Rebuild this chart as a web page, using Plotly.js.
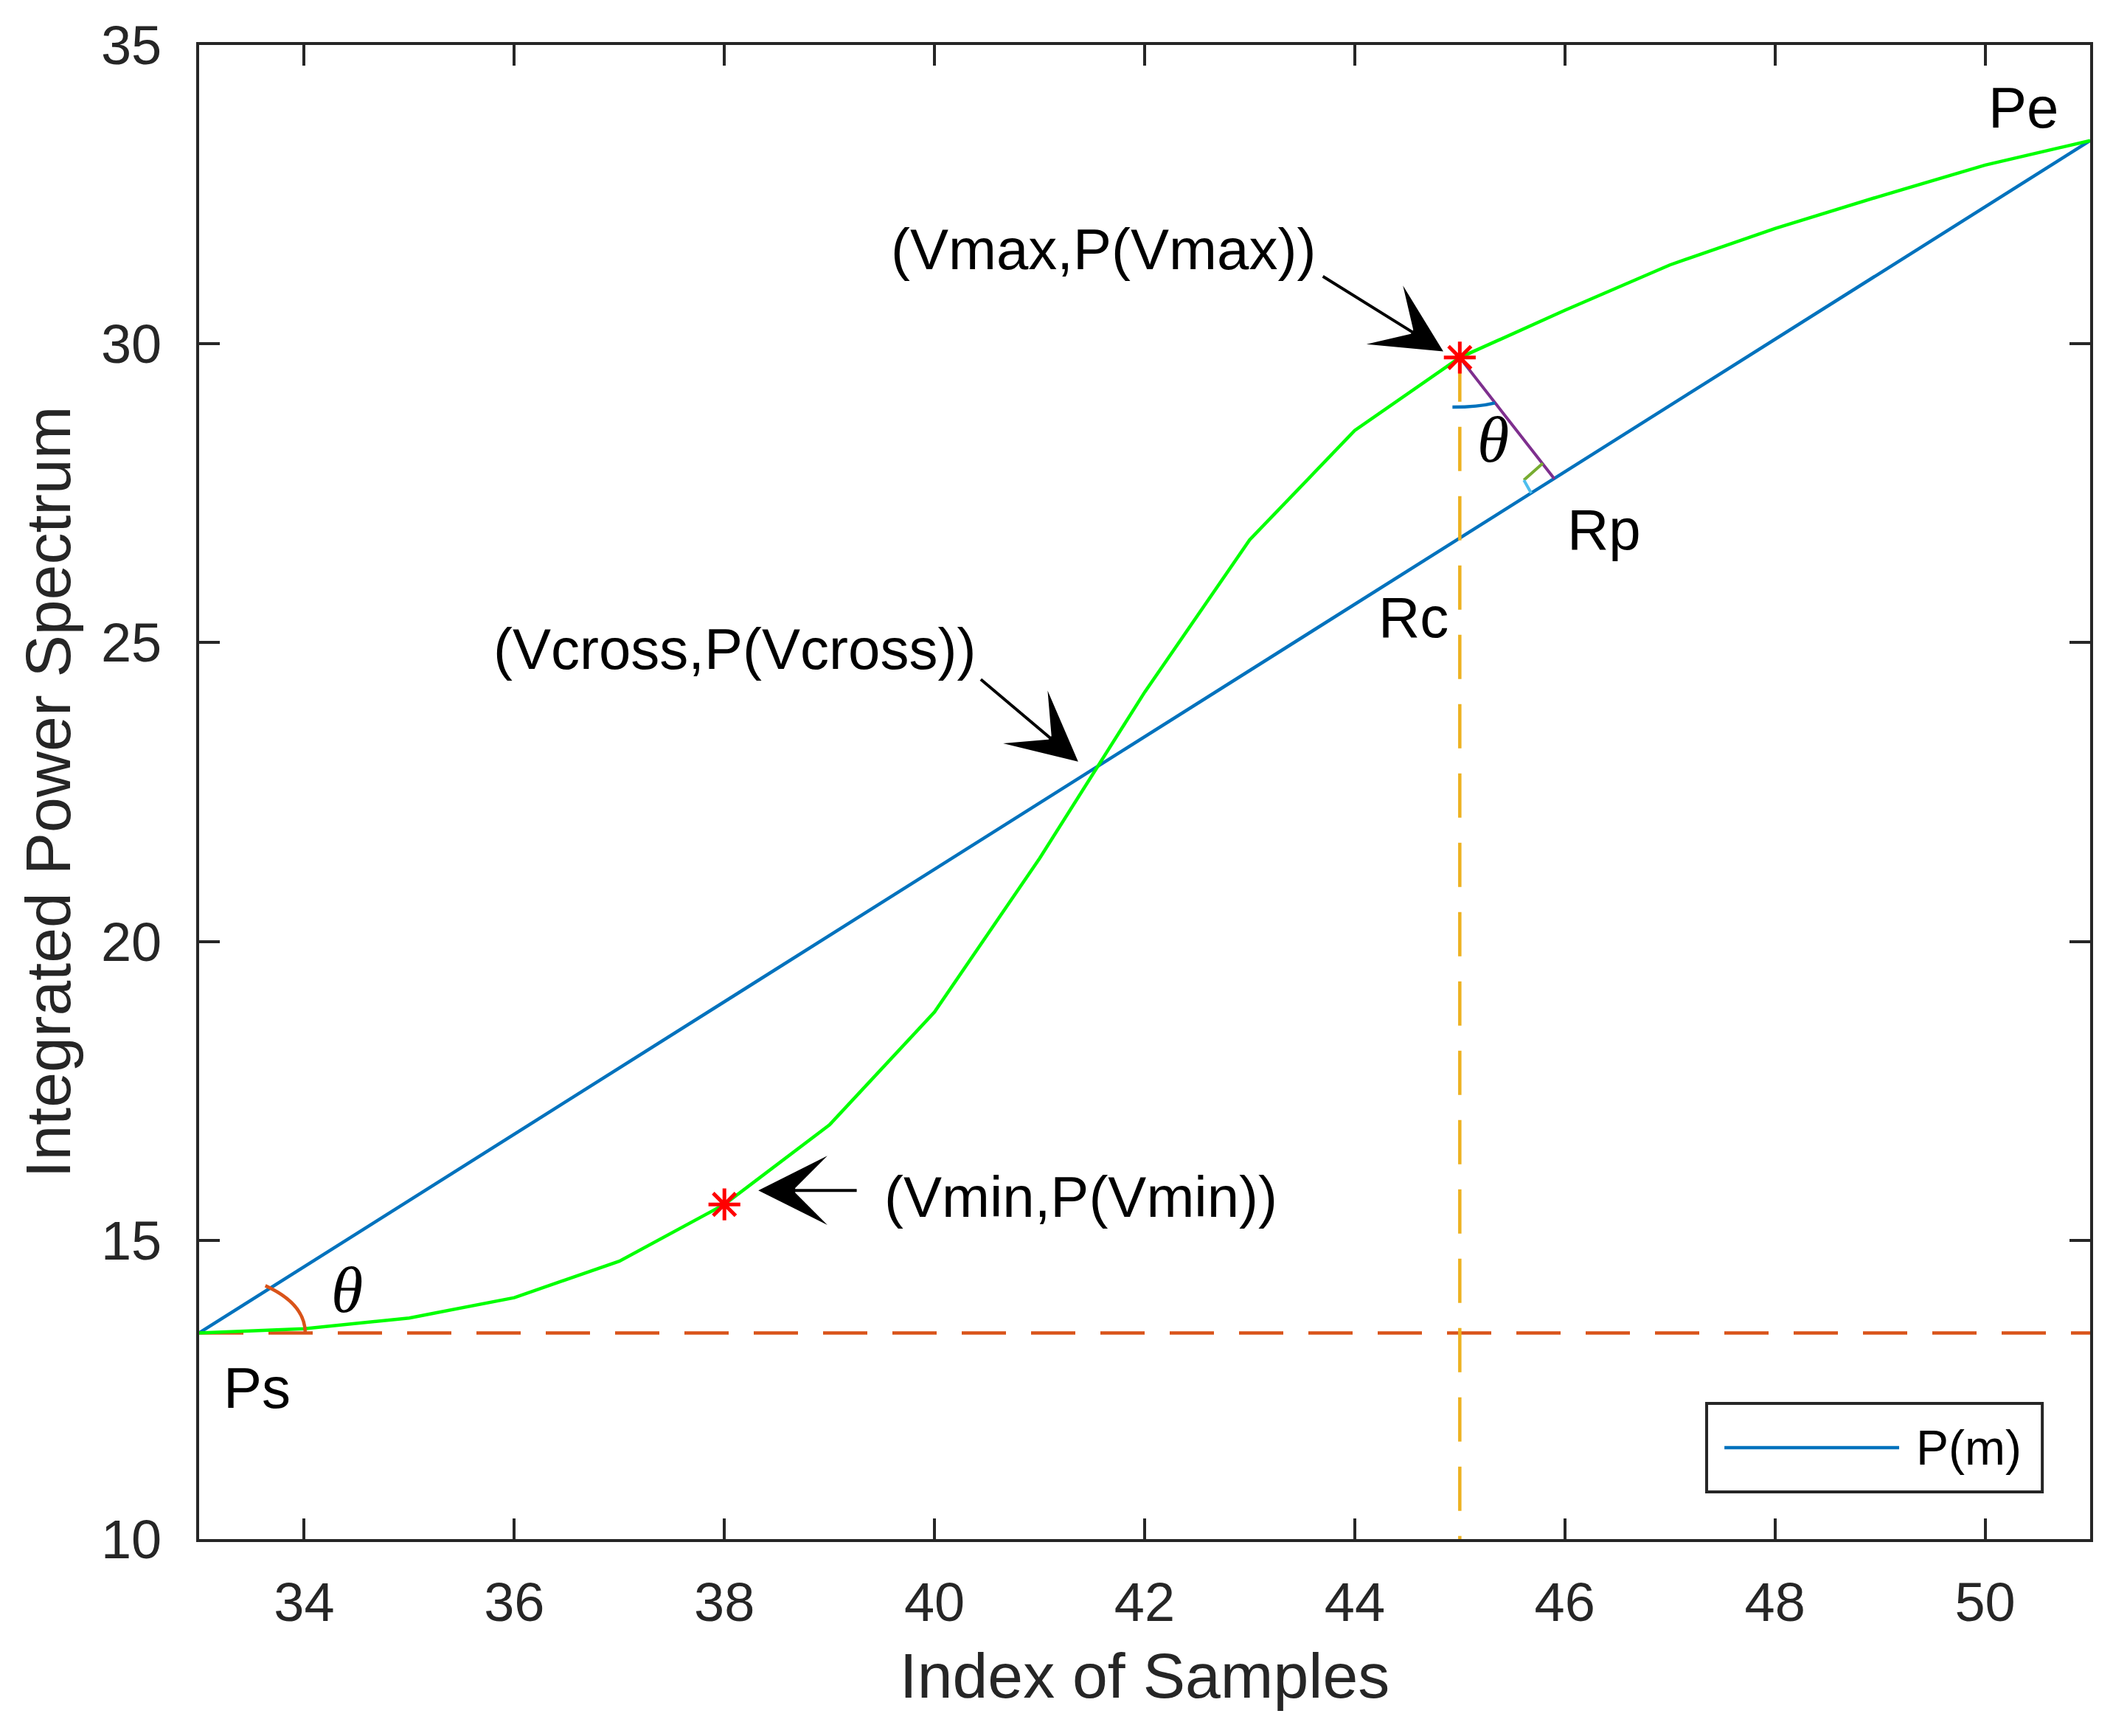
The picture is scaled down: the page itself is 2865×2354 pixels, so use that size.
<!DOCTYPE html>
<html>
<head>
<meta charset="utf-8">
<script src="https://cdn.plot.ly/plotly-3.0.1.min.js"></script>
<style>
html,body{margin:0;padding:0;background:#fff;}
#chart{width:2865px;height:2354px;}
</style>
</head>
<body>
<div id="chart"></div>
<script>
// ---- data ----
const sampleIndex = [33,34,35,36,37,38,39,40,41,42,43,44,45,46,47,48,49,50,51];
const integratedPower = [13.45,13.52,13.70,14.04,14.65,15.60,16.93,18.82,21.39,24.17,26.72,28.55,29.77,30.56,31.32,31.93,32.47,32.99,33.40];
const chordX = [33, 51];
const chordY = [13.45, 33.40];
const baseX = [33, 51];
const baseY = [13.45, 13.45];
const vmaxDropX = [45, 45];
const vmaxDropY = [29.77, 10];
const extremaX = [38, 45];
const extremaY = [15.60, 29.77];
const perpX = [45, 45.90];
const perpY = [29.77, 27.74];
const rightAngleAX = [45.79, 45.61];
const rightAngleAY = [28.00, 27.72];
const rightAngleBX = [45.61, 45.68];
const rightAngleBY = [27.72, 27.50];
const xTicks = [34,36,38,40,42,44,46,48,50];
const yTicks = [10,15,20,25,30,35];

const FONT = 'Liberation Sans, Arial, Helvetica, sans-serif';
const SERIF = 'Liberation Serif, Times New Roman, serif';
const AX = '#262626';

const traces = [
  {x: chordX, y: chordY, mode:'lines', name:'P(m)', line:{color:'#0072BD', width:4.5}, showlegend:false},
  {x: baseX, y: baseY, mode:'lines', line:{color:'#D95319', width:4.5, dash:'60px,34px'}, showlegend:false},
  {x: sampleIndex, y: integratedPower, mode:'lines', line:{color:'#00FF00', width:4.5}, showlegend:false},
  {x: vmaxDropX, y: vmaxDropY, mode:'lines', line:{color:'#EDB120', width:4.5, dash:'60px,34px'}, showlegend:false},
  {x: perpX, y: perpY, mode:'lines', line:{color:'#7E2F8E', width:4}, showlegend:false},
  {x: rightAngleAX, y: rightAngleAY, mode:'lines', line:{color:'#77AC30', width:4}, showlegend:false},
  {x: rightAngleBX, y: rightAngleBY, mode:'lines', line:{color:'#4DBEEE', width:4}, showlegend:false},
  {x: extremaX, y: extremaY, mode:'markers', marker:{symbol:'asterisk-open', size:36, color:'#FF0000', line:{color:'#FF0000', width:5}}, showlegend:false}
];

function lbl(text, x, y, size, extra){
  return Object.assign({text:text, x:x, y:y, xref:'x', yref:'y', xanchor:'left', yanchor:'middle',
    showarrow:false, font:{family:FONT, size:size, color:'#000'}}, extra||{});
}
function arrow(x, y, ax, ay){
  return {text:'', x:x, y:y, ax:ax, ay:ay, xref:'x', yref:'y', axref:'x', ayref:'y',
    showarrow:true, arrowhead:3, arrowsize:3.9, arrowwidth:4, arrowcolor:'#000', standoff:0, startstandoff:0, font:{size:1}};
}

const annotations = [
  lbl('(Vmax,P(Vmax))', 39.57, 31.58, 78),
  lbl('(Vcross,P(Vcross))', 35.79, 24.90, 78),
  lbl('(Vmin,P(Vmin))', 39.51, 15.72, 78),
  lbl('Pe', 50.02, 33.95, 78),
  lbl('Ps', 33.22, 12.53, 78),
  lbl('Rp', 46.01, 26.89, 78),
  lbl('Rc', 44.21, 25.42, 78),
  lbl('<i>θ</i>', 34.41, 14.17, 88, {xanchor:'center', font:{family:SERIF, size:88, color:'#000'}}),
  lbl('<i>θ</i>', 45.32, 28.39, 88, {xanchor:'center', font:{family:SERIF, size:88, color:'#000'}}),
  arrow(44.843, 29.874, 43.686, 31.14),
  arrow(41.367, 23.01, 40.43, 24.40),
  arrow(38.323, 15.835, 39.27, 15.835),
  // manual legend text
  {text:'P(m)', x:0.9073, y:0.0612, xref:'paper', yref:'paper', xanchor:'left', yanchor:'middle', showarrow:false,
   font:{family:FONT, size:66, color:'#000'}}
];

const shapes = [
  // angle arcs
  {type:'path', xref:'x', yref:'y', path:'M 34.01,13.45 Q 34.01,13.936 33.63,14.24', line:{color:'#D95319', width:4.5}},
  {type:'path', xref:'x', yref:'y', path:'M 44.93,28.94 Q 45.174,28.94 45.335,29.01', line:{color:'#0072BD', width:4.5}},
  // legend box
  {type:'rect', xref:'paper', yref:'paper', x0:0.7972, x1:0.9747, y0:0.0316, y1:0.0908, line:{color:AX, width:4}, fillcolor:'#fff', layer:'above'},
  {type:'line', xref:'paper', yref:'paper', x0:0.8066, x1:0.899, y0:0.0612, y1:0.0612, line:{color:'#0072BD', width:4.5}, layer:'above'}
];

const layout = {
  width:2865, height:2354,
  margin:{l:270, r:31, t:61, b:267, pad:0},
  paper_bgcolor:'#fff', plot_bgcolor:'#fff',
  showlegend:false,
  font:{family:FONT, color:AX},
  xaxis:{
    range:[33,51], tickvals:xTicks, ticktext:xTicks.map(String),
    ticks:'inside', ticklen:28, tickwidth:4, tickcolor:AX,
    showline:true, linewidth:4, linecolor:AX, mirror:'ticks',
    showgrid:false, zeroline:false,
    tickfont:{family:FONT, size:74, color:AX},
    ticklabelstandoff:18,
    title:{text:'Index of Samples', font:{family:FONT, size:86, color:AX}, standoff:30}
  },
  yaxis:{
    range:[10,35], tickvals:yTicks, ticktext:yTicks.map(String),
    ticks:'inside', ticklen:28, tickwidth:4, tickcolor:AX,
    showline:true, linewidth:4, linecolor:AX, mirror:'ticks',
    showgrid:false, zeroline:false,
    tickfont:{family:FONT, size:74, color:AX},
    ticklabelstandoff:32,
    title:{text:'Integrated Power Spectrum', font:{family:FONT, size:86, color:AX}, standoff:14}
  },
  annotations:annotations,
  shapes:shapes
};

Plotly.newPlot('chart', traces, layout, {staticPlot:true, displayModeBar:false});
</script>
</body>
</html>
